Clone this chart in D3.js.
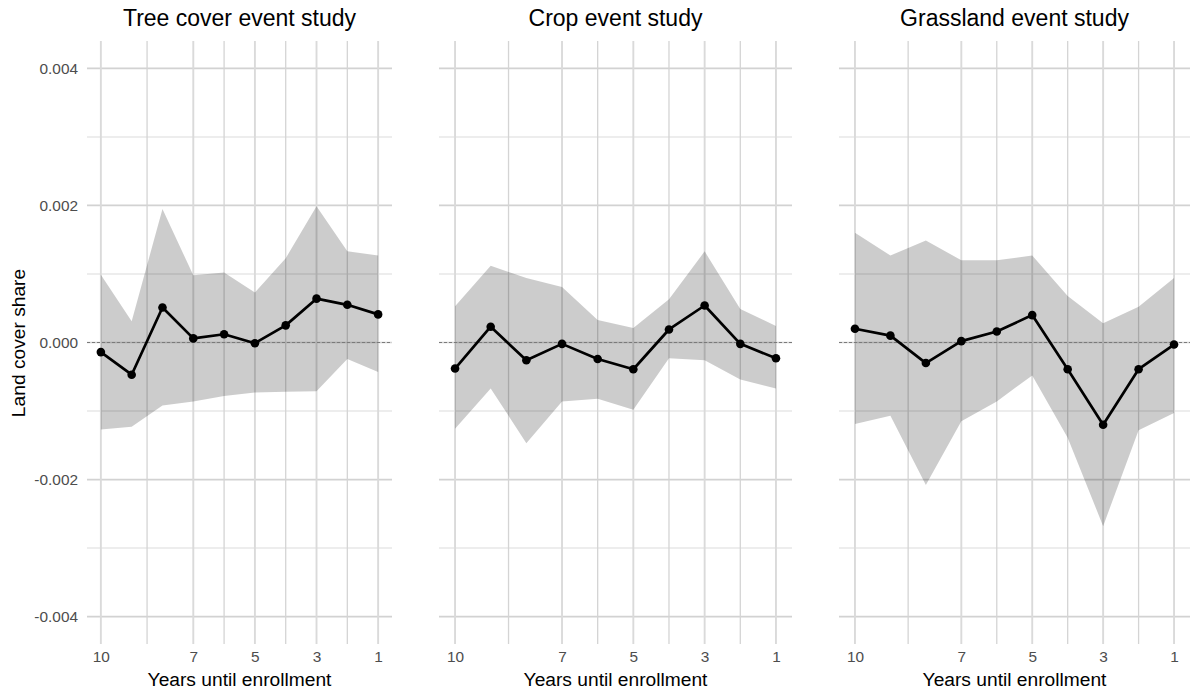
<!DOCTYPE html>
<html>
<head>
<meta charset="utf-8">
<script src="https://cdn.jsdelivr.net/npm/d3@7"></script>
<style>
  body { margin: 0; background: #fff; }
  svg { font-family: "Liberation Sans", Arial, sans-serif; }
</style>
</head>
<body>
<svg width="1190" height="692"></svg>
<script>
var years = [10, 9, 8, 7, 6, 5, 4, 3, 2, 1];
var titles = ["Tree cover event study", "Crop event study", "Grassland event study"];

var treeEst  = [-0.00014, -0.00047, 0.00051, 0.00006, 0.00012, -0.00001, 0.00025, 0.00064, 0.00055, 0.00041];
var treeLow  = [-0.00127, -0.00123, -0.00092, -0.00086, -0.00078, -0.00073, -0.00072, -0.00071, -0.00024, -0.00043];
var treeHigh = [0.00099, 0.00031, 0.00195, 0.00098, 0.00102, 0.00073, 0.00123, 0.00199, 0.00133, 0.00127];

var cropEst  = [-0.00038, 0.00023, -0.00026, -0.00002, -0.00024, -0.00039, 0.00019, 0.00054, -0.00002, -0.00023];
var cropLow  = [-0.00126, -0.00067, -0.00147, -0.00086, -0.00082, -0.00098, -0.00023, -0.00026, -0.00054, -0.00067];
var cropHigh = [0.00053, 0.00112, 0.00094, 0.00081, 0.00033, 0.00021, 0.00063, 0.00133, 0.00049, 0.00024];

var grassEst  = [0.00020, 0.00010, -0.00030, 0.00002, 0.00016, 0.00040, -0.00039, -0.00120, -0.00039, -0.00003];
var grassLow  = [-0.00119, -0.00107, -0.00208, -0.00115, -0.00086, -0.00048, -0.00139, -0.00268, -0.00128, -0.00103];
var grassHigh = [0.00160, 0.00127, 0.00149, 0.00120, 0.00120, 0.00127, 0.00068, 0.00028, 0.00052, 0.00094];

var xTicks = [10, 7, 5, 3, 1];
var xMinor = [8.5, 6, 4, 2];
var yTicks = [-0.004, -0.002, 0, 0.002, 0.004];
var yMinor = [-0.003, -0.001, 0.001, 0.003];

var series = [
    {est: treeEst, low: treeLow, high: treeHigh},
    {est: cropEst, low: cropLow, high: cropHigh},
    {est: grassEst, low: grassLow, high: grassHigh}
];

/* panel boxes, left and right edge */
var panelX = [[87, 392], [439, 792], [839, 1190]];
var plotTop = 41, plotBottom = 644;

var svg = d3.select("svg");

var y = d3.scaleLinear().domain([-0.0044, 0.0044]).range([plotBottom, plotTop]);

series.forEach(function(s, p) {
    var x = d3.scaleLinear().domain([10.45, 0.55]).range(panelX[p]);
    var g = svg.append("g");
    var data = years.map(function(yr, i) {
        return {yr: yr, est: s.est[i], low: s.low[i], high: s.high[i]};
    });

    /* grid */
    g.selectAll(".hminor").data(yMinor).enter().append("line")
        .attr("x1", panelX[p][0]).attr("x2", panelX[p][1])
        .attr("y1", y).attr("y2", y)
        .attr("stroke", "#dcdcdc").attr("stroke-width", 1.1);
    g.selectAll(".hmajor").data(yTicks).enter().append("line")
        .attr("x1", panelX[p][0]).attr("x2", panelX[p][1])
        .attr("y1", y).attr("y2", y)
        .attr("stroke", "#d2d2d2").attr("stroke-width", 1.7);
    g.selectAll(".vminor").data(xMinor).enter().append("line")
        .attr("x1", x).attr("x2", x)
        .attr("y1", plotTop).attr("y2", plotBottom)
        .attr("stroke", "#d4d4d4").attr("stroke-width", 1.3);
    g.selectAll(".vmajor").data(xTicks).enter().append("line")
        .attr("x1", x).attr("x2", x)
        .attr("y1", plotTop).attr("y2", plotBottom)
        .attr("stroke", "#dadada").attr("stroke-width", 1.9);

    /* confidence band */
    var area = d3.area()
        .x(function(d) { return x(d.yr); })
        .y0(function(d) { return y(d.low); })
        .y1(function(d) { return y(d.high); });
    g.append("path").datum(data)
        .attr("d", area)
        .attr("fill", "#000")
        .attr("fill-opacity", 0.2);

    /* zero line */
    g.append("line")
        .attr("x1", panelX[p][0]).attr("x2", panelX[p][1])
        .attr("y1", y(0)).attr("y2", y(0))
        .attr("stroke", "#7a7a7a").attr("stroke-width", 1.2)
        .attr("stroke-dasharray", "3,2");

    /* estimates */
    var line = d3.line()
        .x(function(d) { return x(d.yr); })
        .y(function(d) { return y(d.est); });
    g.append("path").datum(data)
        .attr("d", line)
        .attr("fill", "none")
        .attr("stroke", "#000")
        .attr("stroke-width", 2.7)
        .attr("stroke-linejoin", "round");
    g.selectAll("circle").data(data).enter().append("circle")
        .attr("cx", function(d) { return x(d.yr); })
        .attr("cy", function(d) { return y(d.est); })
        .attr("r", 4.3)
        .attr("fill", "#000");

    /* x axis */
    var xAxis = g.append("g")
        .attr("transform", "translate(0," + plotBottom + ")")
        .call(d3.axisBottom(x).tickValues(xTicks).tickSize(0).tickPadding(7)
            .tickFormat(function(d) { return d; }));
    xAxis.select(".domain").remove();
    xAxis.selectAll("text")
        .attr("font-size", 15.4)
        .attr("fill", "#4d4d4d")
        .attr("font-family", "Liberation Sans, Arial, sans-serif");

    g.append("text")
        .attr("x", (panelX[p][0] + panelX[p][1]) / 2)
        .attr("y", 686)
        .attr("text-anchor", "middle")
        .attr("font-size", 19.2)
        .attr("fill", "#000")
        .text("Years until enrollment");

    g.append("text")
        .attr("x", (panelX[p][0] + panelX[p][1]) / 2)
        .attr("y", 26)
        .attr("text-anchor", "middle")
        .attr("font-size", 23)
        .attr("fill", "#000")
        .text(titles[p]);

    if (p === 0) {
        var yAxis = g.append("g")
            .attr("transform", "translate(" + panelX[p][0] + ",0)")
            .call(d3.axisLeft(y).tickValues(yTicks).tickSize(0).tickPadding(9)
                .tickFormat(function(d) { return d.toFixed(3); }));
        yAxis.select(".domain").remove();
        yAxis.selectAll("text")
            .attr("font-size", 15.4)
            .attr("fill", "#4d4d4d")
            .attr("font-family", "Liberation Sans, Arial, sans-serif");
    }
});

svg.append("text")
    .attr("transform", "translate(25,343) rotate(-90)")
    .attr("text-anchor", "middle")
    .attr("font-size", 19.2)
    .attr("fill", "#000")
    .text("Land cover share");
</script>
</body>
</html>
